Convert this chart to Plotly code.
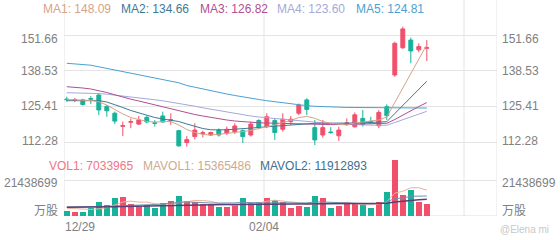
import plotly.graph_objects as go

W, H = 560, 240

# ---------------- data ----------------
x_labels = ["12/29", "02/04"]
x_label_idx = [0, 25]

opens = [128.1, 127.6, 127.8, 128.3, 129.6, 125.4, 122.9, 118.1, 119.6, 118.9,
         121.4, 119.4, 121.9, 120.3, 116.5, 112.1, 114.3, 115.5, 114.9, 116.7,
         115.6, 116.1, 116.5, 114.9, 120.2, 118.0, 120.2, 117.0, 119.8, 122.9,
         127.8, 117.6, 114.9, 116.0, 114.6, 119.1, 117.9, 121.0, 119.9, 118.3,
         125.3, 136.95, 147.0, 149.8, 146.2, 146.8]
highs = [129.0, 128.5, 128.2, 129.2, 130.4, 125.9, 123.5, 119.8, 121.0, 121.9,
         121.9, 120.4, 123.5, 122.9, 116.8, 114.5, 119.2, 116.5, 116.1, 117.3,
         118.0, 119.2, 117.0, 119.8, 120.7, 122.9, 121.0, 122.9, 121.9, 126.5,
         128.4, 120.4, 120.4, 117.8, 117.9, 121.0, 123.2, 124.1, 121.6, 124.1,
         126.2, 149.2, 154.7, 150.7, 148.6, 149.8]
lows = [127.1, 127.0, 125.7, 126.3, 122.2, 121.6, 118.9, 114.5, 117.4, 118.6,
        119.2, 118.0, 119.4, 118.6, 110.6, 110.6, 113.3, 114.0, 114.5, 114.3,
        114.9, 115.3, 112.0, 114.3, 117.0, 117.4, 113.1, 116.1, 118.6, 122.2,
        122.2, 111.2, 113.9, 115.3, 112.7, 118.3, 117.6, 118.0, 118.9, 117.4,
        120.4, 136.3, 146.5, 141.3, 145.3, 142.1]
closes = [127.9, 127.9, 126.1, 128.1, 124.1, 123.8, 120.0, 118.3, 119.8, 120.4,
          119.7, 119.2, 119.7, 120.5, 110.9, 113.2, 116.7, 115.7, 115.8, 114.9,
          117.0, 118.2, 114.3, 118.9, 117.7, 121.6, 115.8, 120.7, 120.7, 125.9,
          124.3, 113.1, 117.6, 115.8, 116.7, 119.3, 122.3, 118.8, 119.7, 123.2,
          122.0, 148.6, 153.9, 145.8, 147.4, 147.0]

ma1 = [127.95, 127.84, 127.65, 127.58, 127.14, 125.92, 124.27, 122.62, 121.33, 120.59,
       119.86, 119.67, 119.75, 119.86, 118.57, 116.92, 115.81, 115.08, 114.90, 115.08,
       115.45, 115.81, 116.18, 116.55, 117.28, 117.84, 118.57, 119.49, 120.23, 121.33,
       121.70, 121.03, 119.86, 119.20, 118.76, 118.57, 119.31, 119.79, 120.04, 120.41,
       121.51, 126.84, 132.17, 137.32, 142.47, 148.09]
ma2 = [127.51, 127.58, 127.65, 127.69, 127.54, 127.03, 126.11, 125.01, 123.90, 122.98,
       122.06, 121.33, 120.78, 120.41, 119.86, 118.94, 118.02, 117.28, 116.81, 116.73,
       116.81, 117.03, 117.17, 117.39, 117.65, 117.91, 118.13, 118.39, 118.65, 118.87,
       119.12, 119.20, 119.23, 119.20, 119.16, 119.20, 119.31, 119.38, 119.49, 119.60,
       119.79, 122.80, 125.74, 128.68, 131.62, 134.66]
ma3 = [132.65, 132.47, 132.17, 131.81, 131.26, 130.52, 129.67, 128.79, 128.06, 127.40,
       126.66, 126.00, 125.37, 124.64, 123.90, 123.17, 122.43, 121.88, 121.33, 120.78,
       120.41, 120.04, 119.75, 119.49, 119.38, 119.31, 119.23, 119.20, 119.09, 118.94,
       118.76, 118.65, 118.65, 118.72, 118.79, 118.83, 118.90, 118.98, 119.05, 119.12,
       119.20, 120.59, 122.25, 123.72, 125.37, 126.82]
ma4 = [130.45, 130.41, 130.34, 130.26, 130.12, 129.90, 129.60, 129.24, 128.90, 128.57,
       128.20, 127.84, 127.47, 127.03, 126.59, 126.07, 125.48, 124.90, 124.36, 123.80,
       123.25, 122.76, 122.33, 121.88, 121.51, 121.22, 120.96, 120.70, 120.45, 120.19,
       119.90, 119.60, 119.31, 119.09, 118.90, 118.76, 118.65, 118.57, 118.53, 118.49,
       118.49, 119.49, 120.48, 121.48, 122.52, 123.60]
ma5 = [141.26, 141.07, 140.85, 140.56, 139.97, 139.38, 138.79, 138.20, 137.62, 137.03,
       136.44, 135.85, 135.26, 134.67, 134.09, 133.09, 132.43, 131.81, 131.15, 130.52,
       129.97, 129.42, 128.87, 128.42, 127.95, 127.51, 127.10, 126.70, 126.29, 125.96,
       125.67, 125.45, 125.30, 125.19, 125.12, 125.04, 125.01, 124.97, 124.93, 124.90,
       124.86, 124.82, 124.82, 124.81, 124.81, 124.81]

volumes = [2980000, 2560000, 2560000, 4590000, 8520000, 6550000, 10540000, 11490000, 7150000, 5540000,
           6550000, 4940000, 7560000, 9110000, 11910000, 9110000, 8520000, 7150000, 7150000, 5180000,
           5540000, 6550000, 10540000, 7560000, 8520000, 10900000, 9530000, 8160000, 4760000, 6070000,
           5660000, 11730000, 10540000, 5060000, 5780000, 7560000, 7560000, 7270000, 5060000, 8160000,
           14470000, 33350000, 12510000, 15480000, 8520000, 7033965]
mavol1 = [4590000, 4410000, 4170000, 3930000, 4230000, 4940000, 6550000, 8340000, 8870000, 8280000,
          8280000, 7150000, 6370000, 6730000, 8040000, 8520000, 9230000, 9170000, 8750000, 7440000,
          6730000, 6310000, 6970000, 7090000, 7740000, 8810000, 9410000, 8930000, 8400000, 7860000,
          6850000, 7270000, 7740000, 7800000, 7740000, 8160000, 7320000, 6670000, 6670000, 7150000,
          8520000, 13640000, 14710000, 16790000, 16850000, 15365486]
mavol2 = [5360000, 5360000, 5360000, 5480000, 5660000, 5780000, 5960000, 6130000, 6190000, 6250000,
          6610000, 6850000, 7320000, 7800000, 8160000, 8400000, 8190000, 7740000, 7740000, 7740000,
          7620000, 7800000, 8100000, 7920000, 7560000, 7740000, 7860000, 7980000, 7740000, 7800000,
          7800000, 8340000, 8340000, 8100000, 7800000, 7500000, 7270000, 7210000, 7210000, 7440000,
          8340000, 10480000, 10660000, 11730000, 11970000, 11912893]
mavol3 = [5180000, 5180000, 5240000, 5300000, 5360000, 5420000, 5540000, 5660000, 5780000, 5900000,
          6010000, 6130000, 6250000, 6370000, 6490000, 6550000, 6610000, 6670000, 6730000, 6790000,
          6850000, 6910000, 6970000, 7030000, 7090000, 7150000, 7180000, 7210000, 7240000, 7270000,
          7300000, 7330000, 7360000, 7390000, 7420000, 7440000, 7470000, 7500000, 7530000, 7560000,
          7620000, 8340000, 8930000, 9410000, 9710000, 9950000]

price_ticks = [151.66, 138.53, 125.41, 112.28]
vol_ticks = [21438699, 0]
vol_tick_text = ["21438699", "万股"]

ma_names = ["MA1", "MA2", "MA3", "MA4", "MA5"]
ma_last = ["148.09", "134.66", "126.82", "123.60", "124.81"]
vol_names = ["VOL1", "MAVOL1", "MAVOL2"]
vol_last = ["7033965", "15365486", "11912893"]

# ---------------- style ----------------
UP = "#f24f6b"
DOWN = "#17b29a"
MA_COLORS = ["#d8a386", "#3d7a96", "#b04f92", "#a6a9da", "#4aa1d2"]
VOL_TEXT_COLORS = ["#f07585", "#cfa98e", "#3d6f8f"]
MAVOL_LINE_COLORS = ["#e8b29c", "#6f93ad", "#5b3f78"]
GRID = "#e4e4e4"
LABEL = "#808080"
FONT = "Liberation Sans, Arial, Noto Sans CJK SC, sans-serif"


def fx(p):
    return p / W


def fy(p):
    return 1 - p / H


X_LEFT, X_RIGHT = 64, 497
PX_PER_IDX = 8.0
X0 = -0.35
X1 = X0 + (X_RIGHT - X_LEFT) / PX_PER_IDX

# price axis: 151.66 at px 35, 2.72 px per unit
P_TOP_PX, P_BOT_PX = 25, 150
P_SCALE = 2.72
p_max = 151.66 + (35 - P_TOP_PX) / P_SCALE
p_min = 151.66 - (P_BOT_PX - 35) / P_SCALE
# volume axis: 0 at px 216, 21438699 at px 180
V_TOP_PX, V_BOT_PX = 155, 216
v_per_px = 21438699 / 36.0
v_max = (V_BOT_PX - V_TOP_PX) * v_per_px

idx = list(range(len(opens)))

fig = go.Figure()

fig.add_trace(go.Candlestick(
    x=idx, open=opens, high=highs, low=lows, close=closes,
    increasing=dict(line=dict(color=UP, width=1), fillcolor=UP),
    decreasing=dict(line=dict(color=DOWN, width=1), fillcolor=DOWN),
    whiskerwidth=0, xaxis="x", yaxis="y", hoverinfo="skip",
))

for series, c in zip([ma5, ma4, ma3, ma2, ma1], MA_COLORS[::-1]):
    fig.add_trace(go.Scatter(x=idx, y=series, mode="lines",
                             line=dict(color=c, width=1), xaxis="x", yaxis="y",
                             hoverinfo="skip"))

bar_colors = [UP if c >= o else DOWN for o, c in zip(opens, closes)]
fig.add_trace(go.Bar(x=idx, y=volumes, marker=dict(color=bar_colors, line=dict(width=0)),
                     width=0.75, xaxis="x2", yaxis="y2", hoverinfo="skip"))

widths = [1, 1, 1.5]
for series, c, w in zip([mavol1, mavol2, mavol3], MAVOL_LINE_COLORS, widths):
    fig.add_trace(go.Scatter(x=idx, y=series, mode="lines",
                             line=dict(color=c, width=w), xaxis="x2", yaxis="y2",
                             hoverinfo="skip"))

shapes = []
for gx in [X0, X0 + 25, X0 + 50, X1]:
    shapes.append(dict(type="line", xref="x", yref="paper", x0=gx, x1=gx,
                       y0=fy(V_BOT_PX), y1=1, line=dict(color=GRID, width=1), layer="below"))
shapes.append(dict(type="line", xref="paper", yref="y2", x0=fx(X_LEFT), x1=fx(X_RIGHT),
                   y0=0, y1=0, line=dict(color="#dcdcdc", width=1), layer="below"))

ann = []


def text(x, y, s, color, xanchor="left", xref="paper", yref="paper", yshift=0, size=12):
    ann.append(dict(x=x, y=y, xref=xref, yref=yref, text=s, showarrow=False,
                    xanchor=xanchor, yanchor="middle", yshift=yshift,
                    borderpad=0, borderwidth=0,
                    font=dict(family=FONT, size=size, color=color)))


# MA legend
ma_x = [43, 121, 200, 277, 356]
for name, val, c, px in zip(ma_names, ma_last, MA_COLORS, ma_x):
    text(fx(px), fy(9), f"{name}: {val}", c)

# volume legend
vol_x = [49, 143, 260]
for name, val, c, px in zip(vol_names, vol_last, VOL_TEXT_COLORS, vol_x):
    text(fx(px), fy(165.5), f"{name}: {val}", c)

# price axis labels (both sides)
p_shift = {151.66: -4, 112.28: 1}
for v in price_ticks:
    s = f"{v:.2f}"
    text(fx(57.5), v, s, LABEL, xanchor="right", yref="y", yshift=p_shift.get(v, 0))
    text(fx(502), v, s, LABEL, xanchor="left", yref="y", yshift=p_shift.get(v, 0))

v_shift = [-2.5, 5]
for v, s, sh in zip(vol_ticks, vol_tick_text, v_shift):
    text(fx(57.5), v, s, LABEL, xanchor="right", yref="y2", yshift=sh)
    text(fx(502), v, s, LABEL, xanchor="left", yref="y2", yshift=sh)

# x labels
text(fx(65), fy(227), x_labels[0], LABEL, xanchor="left")
text(X0 + x_label_idx[1], fy(227), x_labels[1], LABEL, xanchor="center", xref="x")

# watermark
text(fx(500), fy(229), "@Elena mi", "#c8c8c8", size=10)

axis_common = dict(showgrid=False, zeroline=False, showline=False, showticklabels=False,
                   ticks="", fixedrange=True)

fig.update_layout(
    width=W, height=H, margin=dict(l=0, r=0, t=0, b=0, pad=0),
    paper_bgcolor="white", plot_bgcolor="white", showlegend=False,
    xaxis=dict(domain=[fx(X_LEFT), fx(X_RIGHT)], range=[X0, X1], anchor="y",
               rangeslider=dict(visible=False), **axis_common),
    xaxis2=dict(domain=[fx(X_LEFT), fx(X_RIGHT)], range=[X0, X1], anchor="y2",
                matches="x", **axis_common),
    yaxis=dict(domain=[fy(P_BOT_PX), fy(P_TOP_PX)], range=[p_min, p_max], anchor="x",
               tickvals=price_ticks, showgrid=True, gridcolor=GRID, gridwidth=1,
               zeroline=False, showline=False, showticklabels=False, ticks="", fixedrange=True),
    yaxis2=dict(domain=[fy(V_BOT_PX), fy(V_TOP_PX)], range=[0, v_max], anchor="x2",
                tickvals=vol_ticks, showgrid=True, gridcolor=GRID, gridwidth=1,
                zeroline=False, showline=False, showticklabels=False, ticks="", fixedrange=True),
    shapes=shapes, annotations=ann, bargap=0,
    font=dict(family=FONT),
)

fig.write_html("out.html", config={"displayModeBar": False})
